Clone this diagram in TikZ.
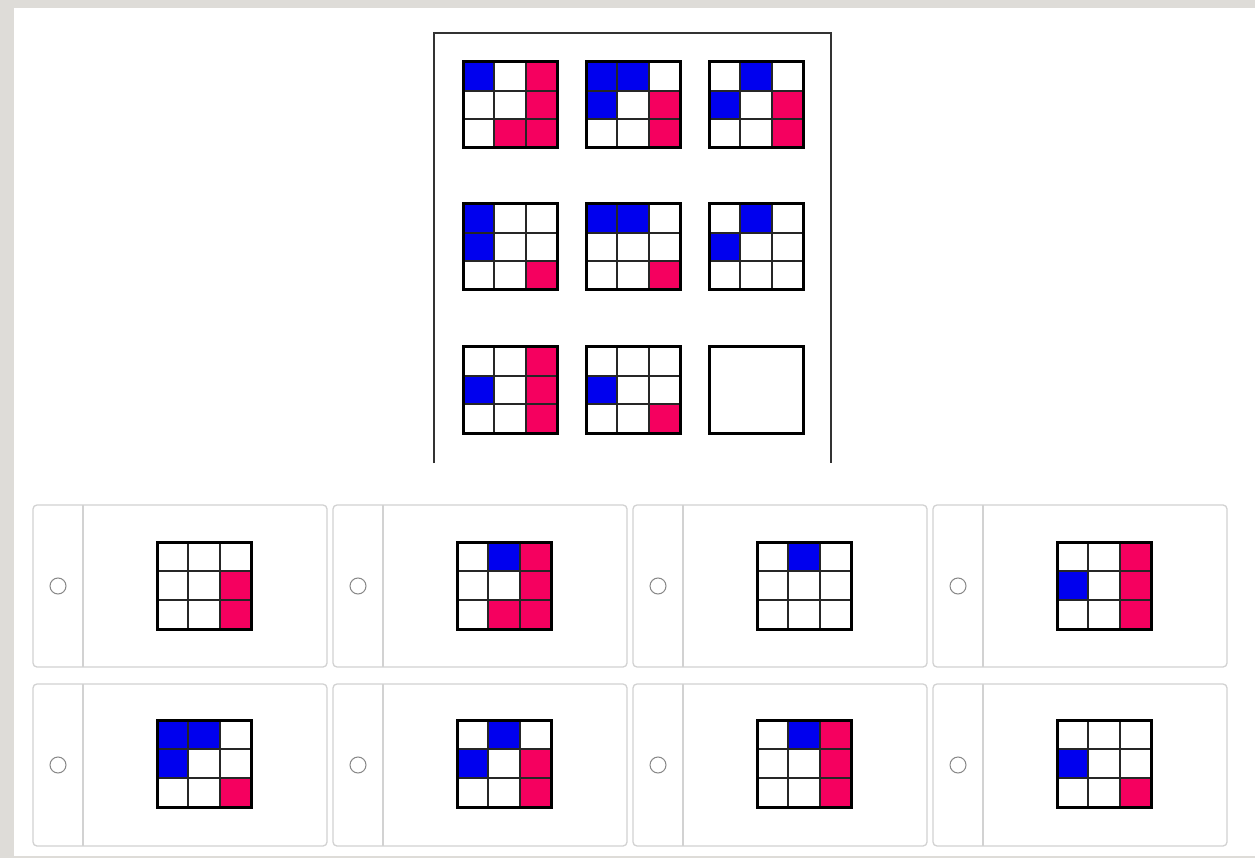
\documentclass[tikz,border=0pt]{standalone}
\usepackage{xcolor}
\definecolor{pblue}{RGB}{0,0,238}
\definecolor{pred}{RGB}{245,0,95}
\definecolor{bggray}{RGB}{222,220,216}
\definecolor{cardgray}{RGB}{210,210,210}
\definecolor{radiogray}{RGB}{135,135,135}
\colorlet{W}{white}\colorlet{B}{pblue}\colorlet{R}{pred}
\tikzset{
  innerline/.style={line width=1.8pt, draw=black!85},
  outerline/.style={line width=3pt, draw=black},
  panelline/.style={line width=1.6pt, draw=black!80},
  card/.style={line width=1.3pt, draw=cardgray, rounded corners=4pt, fill=white},
  divider/.style={line width=1.3pt, draw=cardgray},
  radio/.style={line width=1pt, draw=radiogray},
}
\newcommand\pgrid[4]{%
\begin{scope}[shift={(#1,#2)}]
 \foreach \c [count=\i from 0] in {#4}{
   \pgfmathtruncatemacro\rr{floor(\i/3)}
   \pgfmathtruncatemacro\cc{mod(\i,3)}
   \fill[fill=\c] ({\cc*94/3},{\rr*#3/3}) rectangle ++({94/3},{#3/3});
 }
 \draw[innerline] ({94/3},0) -- ({94/3},#3) ({188/3},0) -- ({188/3},#3)
   (0,{#3/3}) -- (94,{#3/3}) (0,{2*#3/3}) -- (94,{2*#3/3});
 \draw[outerline] (0,0) rectangle (94,#3);
\end{scope}}
\newcommand\pcard[2]{% left x, top y
 \draw[card] (#1,#2) rectangle ({#1+294},{#2+162});
 \draw[divider] ({#1+50},#2) -- ({#1+50},{#2+162});
 \draw[radio] ({#1+25},{#2+81}) circle (8);
}
\begin{document}
\begin{tikzpicture}[x=1pt,y=-1pt]
\useasboundingbox (0,0) rectangle (1255,858);
\fill[white] (0,0) rectangle (1255,858);
\fill[bggray] (0,0) rectangle (14,858);
\fill[bggray] (0,0) rectangle (1255,8.5);
\fill[bggray] (0,855.5) rectangle (1255,858);
% puzzle panel
\draw[panelline] (434,463) -- (434,33) -- (831,33) -- (831,463);
\pgrid{463}{62}{86}{B,W,R, W,W,R, W,R,R}
\pgrid{586}{62}{86}{B,B,W, B,W,R, W,W,R}
\pgrid{709}{62}{86}{W,B,W, B,W,R, W,W,R}
\pgrid{463}{204}{86}{B,W,W, B,W,W, W,W,R}
\pgrid{586}{204}{86}{B,B,W, W,W,W, W,W,R}
\pgrid{709}{204}{86}{W,B,W, B,W,W, W,W,W}
\pgrid{463}{347}{86}{W,W,R, B,W,R, W,W,R}
\pgrid{586}{347}{86}{W,W,W, B,W,W, W,W,R}
\draw[outerline] (709,347) rectangle (803,433);
% answer cards
\pcard{33}{505}\pcard{333}{505}\pcard{633}{505}\pcard{933}{505}
\pcard{33}{684}\pcard{333}{684}\pcard{633}{684}\pcard{933}{684}
\pgrid{157}{542}{87}{W,W,W, W,W,R, W,W,R}
\pgrid{457}{542}{87}{W,B,R, W,W,R, W,R,R}
\pgrid{757}{542}{87}{W,B,W, W,W,W, W,W,W}
\pgrid{1057}{542}{87}{W,W,R, B,W,R, W,W,R}
\pgrid{157}{720}{87}{B,B,W, B,W,W, W,W,R}
\pgrid{457}{720}{87}{W,B,W, B,W,R, W,W,R}
\pgrid{757}{720}{87}{W,B,R, W,W,R, W,W,R}
\pgrid{1057}{720}{87}{W,W,W, B,W,W, W,W,R}
\end{tikzpicture}
\end{document}
